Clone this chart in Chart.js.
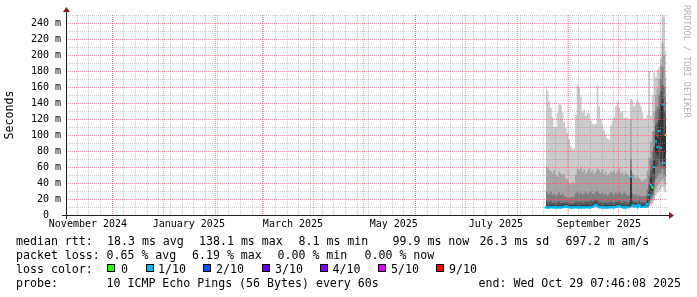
<!DOCTYPE html>
<html><head><meta charset="utf-8">
<script src="https://cdn.jsdelivr.net/npm/chart.js@4.4.1/dist/chart.umd.min.js"></script>
<style>
html,body{margin:0;padding:0;background:#fff;}
#wrap{position:relative;width:697px;height:297px;overflow:hidden;background:#fff;}
canvas{position:absolute;left:0;top:0;}
.t{position:absolute;font-family:"DejaVu Sans Mono",monospace;font-size:11.6px;line-height:14px;color:#000;white-space:pre;}
.box{position:absolute;width:6px;height:6px;border:1px solid #000;}
#wm{position:absolute;font-family:"DejaVu Sans Mono",monospace;font-size:8.5px;line-height:10px;color:#b3b3b3;white-space:pre;transform-origin:0 0;transform:rotate(90deg);left:692px;top:5px;}
</style></head><body>
<div id="wrap">
<canvas id="c" width="697" height="297"></canvas>
<div id="legend"></div>
<div id="wm">RRDTOOL / TOBI OETIKER</div>
</div>
<script>
// ---- categories (days of 2025, one consolidated sample per day) ----
const dayLabels = ['08-18','08-19','08-20','08-21','08-22','08-23','08-24','08-25','08-26','08-27','08-28','08-29','08-30','08-31',
'09-01','09-02','09-03','09-04','09-05','09-06','09-07','09-08','09-09','09-10','09-11','09-12','09-13','09-14','09-15','09-16','09-17','09-18','09-19','09-20','09-21','09-22','09-23','09-24','09-25','09-26','09-27','09-28','09-29','09-30',
'10-01','10-02','10-03','10-04','10-05','10-06','10-07','10-08','10-09','10-10','10-11','10-12','10-13','10-14','10-15','10-16','10-17','10-18','10-19','10-20','10-21','10-22','10-23','10-24','10-25','10-26','10-27','10-28','10-29'];

// ---- sorted ping values (ms), ping1 = fastest ... ping10 = slowest ----
const ping1 = [8.6,8.4,8.5,8.8,8.6,8.5,8.7,8.4,8.6,8.5, 8.8,9.0,9.4,8.9,8.6,8.5,8.4,8.6,8.8,8.5, 8.6,8.4,8.7,8.5,8.6,8.8,8.5,8.6,8.9,9.5, 10.1,9.3,8.8,8.6,8.5,8.4,8.6,8.5,8.7,8.6, 8.8,8.5,8.9,9.3,9.7,8.9,8.6,8.5,8.4,8.7, 8.9,9.1,9.7,9.1,9.6,8.8,9.8,8.9,8.9,9.0, 8.6,9,10,12,14,18,24,28,30,32, 35,30,28];
const ping2 = [8.9,8.7,8.8,9.1,8.9,8.8,9.0,8.7,8.9,8.8, 9.1,9.4,9.9,9.2,8.9,8.8,8.7,8.9,9.1,8.8, 8.9,8.7,9.0,8.8,8.9,9.1,8.8,8.9,9.2,10.0, 10.8,9.7,9.1,8.9,8.8,8.7,8.9,8.8,9.0,8.9, 9.1,8.8,9.3,9.8,10.2,9.3,8.9,8.8,8.7,9.0, 9.2,9.6,10.4,9.5,10.2,9.1,10.6,9.3,9.2,9.4, 9.0,9.5,12,15,18,24,32,36,40,42, 45,40,36];
const ping3 = [9.1,8.9,9.0,9.3,9.1,9.0,9.2,8.9,9.1,9.0, 9.3,9.7,10.2,9.5,9.1,9.0,8.9,9.1,9.3,9.0, 9.1,8.9,9.2,9.0,9.1,9.3,9.0,9.1,9.5,10.4, 11.4,10.1,9.3,9.1,9.0,8.9,9.1,9.0,9.2,9.1, 9.3,9.0,9.6,10.1,10.6,9.6,9.1,9.0,8.9,9.2, 9.4,10.0,11.0,9.8,10.7,9.3,11.2,9.6,9.4,9.7, 9.2,10,14,19,22,32,45,48,52,52, 58,50,48];
const ping4 = [9.3,9.1,9.2,9.5,9.3,9.2,9.4,9.1,9.3,9.2, 9.5,10.0,10.5,9.8,9.3,9.2,9.1,9.3,9.5,9.2, 9.3,9.1,9.4,9.2,9.3,9.5,9.2,9.3,9.8,10.8, 12.0,10.5,9.5,9.3,9.2,9.1,9.3,9.2,9.4,9.3, 9.5,9.2,9.8,10.4,11.0,9.8,9.3,9.2,9.1,9.4, 9.6,10.5,11.6,10.1,11.2,9.5,11.8,9.8,9.6,10.0, 9.4,10.5,17,24,26,42,60,62,68,60, 70,58,60];
const ping5 = [9.5,9.3,9.4,9.7,9.5,9.4,9.6,9.3,9.5,9.4, 9.7,10.3,10.8,10.1,9.5,9.4,9.3,9.5,9.7,9.4, 9.5,9.3,9.6,9.4,9.5,9.7,9.4,9.5,10.1,11.3, 12.6,10.9,9.7,9.5,9.4,9.3,9.5,9.4,9.6,9.5, 9.7,9.4,10.0,10.7,11.3,10.1,9.5,9.4,9.3,9.6, 9.8,12.0,12.2,10.4,11.6,9.7,12.3,10.1,9.8,10.3, 9.6,11,20,30,30,52,78,75,88,66, 80,62,75];
const ping6 = [12.2,12.0,11.8,12.4,12.1,11.9,12.3,11.8,12.2,12.0, 12.5,13.2,13.8,12.9,12.1,12.0,11.8,12.2,12.5,12.0, 12.2,11.9,12.4,12.0,12.2,12.6,12.0,12.2,13.0,14.2, 15.5,13.6,12.4,12.2,12.0,11.9,12.2,12.0,12.3,12.2, 12.5,12.0,12.8,13.6,14.2,12.9,12.2,12.0,11.9,12.3, 12.6,50,15.0,13.0,14.6,12.4,15.2,12.9,12.5,13.0, 12.5,18,30,46,40,68,100,96,118,140, 145,100,112];
const ping7 = [18,17,16,17,15,16,15,16,17,15, 16,15,16,16,15,14,14,15,16,17, 16,17,15,16,17,16,17,18,17,18, 19,18,16,16,17,15,16,15,16,17, 16,15,17,17,18,16,15,17,16,15, 16,56,18,16,17,15,18,16,16,16, 15,24,38,56,62,85,112,115,132,155, 162,130,128];
const ping8 = [30,28,26,29,25,27,24,26,28,25, 27,24,23,22,21,23,22,24,27,29, 26,28,25,27,29,26,28,30,27,26, 29,30,27,26,28,25,27,24,26,28, 27,25,28,26,29,27,25,28,26,24, 25,70,27,24,26,23,25,23,24,24, 24,32,50,70,80,105,130,135,150,170, 185,160,148];
const ping9 = [62,60,57,55,52,56,50,48,54,52, 50,52,46,44,40,38,42,40,50,58, 56,60,54,57,52,55,58,53,56,52, 54,58,56,53,57,51,54,50,52,55, 53,56,52,55,58,52,54,50,53,51, 48,120,52,50,47,49,46,44,42,45, 45,55,72,92,105,128,150,158,170,188, 215,200,172];
const ping10 = [162,155,142,134,122,110,109,128,138,138, 128,116,109,102,94,86,83,82,125,163, 160,148,128,132,124,128,126,118,114,113, 114,162,136,120,113,106,101,96,94,112, 118,122,136,142,134,128,130,122,121,122, 120,145,143,136,139,144,141,136,128,120, 121,125,180,124,150,178,172,182,185,196, 250,248,205];
const medianRtt = [9.6,9.4,9.5,9.8,9.6,9.5,9.7,9.4,9.6,9.5, 9.8,10.4,10.9,10.2,9.6,9.5,9.4,9.6,9.8,9.5, 9.6,9.4,9.7,9.5,9.6,9.8,9.5,9.6,10.2,11.5, 12.8,11.0,9.8,9.6,9.5,9.4,9.6,9.5,9.7,9.6, 9.8,9.5,10.1,10.8,11.4,10.2,9.6,9.5,9.4,9.7, 9.9,48,12.5,10.5,11.8,9.8,12.6,10.2,9.9,10.4, 10.5,14,25,38,34,60,92,85,105,84, 138.1,65,99.9];
// lost pings out of 10
const lossTenths = [1,1,1,1,1,1,1,1,1,1, 1,1,1,1,1,1,1,1,1,1, 1,1,1,1,1,1,1,1,1,1, 1,1,1,1,1,1,1,1,1,1, 1,1,1,1,1,1,1,1,1,1, 1,1,1,1,1,1,1,1,1,1, 1,1,1,1,0,1,1,1,1,1, 1,1,0];

// ---- axis tick labels ----
const yTickValues = [0,10,20,30,40,50,60,70,80,90,100,110,120,130,140,150,160,170,180,190,200,210,220,230,240,250];
const yTickLabels = ['0  ','','20 m','','40 m','','60 m','','80 m','','100 m','','120 m','','140 m','','160 m','','180 m','','200 m','','220 m','','240 m',''];
const monthLabels = ['November 2024','January 2025','March 2025','May 2025','July 2025','September 2025'];
const monthLabelTimes = ['2024-11-16T12:00:00Z','2025-01-16T00:00:00Z','2025-03-19T12:00:00Z','2025-05-19T00:00:00Z','2025-07-19T06:00:00Z','2025-09-19T00:00:00Z'];

// ---- legend ----
const lossLegend = ['0','1/10','2/10','3/10','4/10','5/10','9/10'];
const lossColors = ['#26ff00','#00b8ff','#0059ff','#5e00ff','#7e00ff','#dd00ff','#ff0000'];
const lossLevel = [0,1,2,3,4,5,9];

const DAY = 86400000;
const endTime = Date.UTC(2025, 9, 29, 7, 46, 8);
const startTime = endTime - 360 * DAY;
const dayTimes = dayLabels.map(d => Date.parse('2025-' + d + 'T06:00:00Z'));

// grid positions: weekly (Sunday) minor lines, monthly major lines
const monthStarts = [];
for (let k = 0; k < 13; k++) { const t = Date.UTC(2024, 10 + k, 1); if (t > startTime && t < endTime) monthStarts.push(t); }
const weekStarts = [];
for (let t = Date.UTC(2024, 10, 10); t < endTime; t += 7 * DAY) weekStarts.push(t);

const GRID = 'rgba(143,143,143,0.45)';
const MGRID = 'rgba(235,80,80,0.6)';
const mono = 'DejaVu Sans Mono';

function pts(arr) { return arr.map((v, i) => ({ x: dayTimes[i], y: v })); }
function lossColor(i) { return lossColors[lossLevel.indexOf(lossTenths[i])]; }

const smokeColors = ['#323232', '#585858', '#7e7e7e', '#a4a4a4', '#cacaca'];
const uppers = [ping6, ping7, ping8, ping9, ping10];
const lowers = [ping5, ping4, ping3, ping2, ping1];

const datasets = [{
  data: pts(medianRtt), borderWidth: 2, tension: 0, fill: false,
  pointStyle: 'line', pointRadius: 1.2, pointHoverRadius: 0, pointBorderWidth: 2,
  pointBorderColor: ctx => lossColor(ctx.dataIndex), pointBackgroundColor: ctx => lossColor(ctx.dataIndex),
  borderColor: '#00b8ff',
  segment: { borderColor: ctx => Math.abs(ctx.p1.parsed.y - ctx.p0.parsed.y) > 6 ? 'rgba(0,0,0,0)' : lossColor(ctx.p0DataIndex) }
}];
uppers.forEach((arr, k) => datasets.push({
  data: pts(arr), borderWidth: 0, pointRadius: 0, pointHoverRadius: 0, stepped: 'middle',
  backgroundColor: smokeColors[k], borderColor: smokeColors[k], fill: { target: 6 + k }
}));
lowers.forEach(arr => datasets.push({
  data: pts(arr), borderWidth: 0, pointRadius: 0, pointHoverRadius: 0, stepped: 'middle', fill: false
}));

// dotted rrdtool-style grid, placed through the chart's own scales
const rrdGrid = {
  id: 'rrdGrid',
  beforeDatasetDraw(chart, args) {
    if (args.index !== 0) return;
    const { ctx, chartArea: { left, right, top, bottom }, scales: { x, y } } = chart;
    ctx.save();
    const hline = (v, color) => {
      const row = Math.round(y.getPixelForValue(v));
      ctx.fillStyle = color;
      for (let px = left; px <= right; px += 2) ctx.fillRect(px, row, 1, 1);
    };
    const vline = (t, color) => {
      const col = Math.floor(x.getPixelForValue(t));
      ctx.fillStyle = color;
      for (let py = bottom; py >= top; py -= 2) ctx.fillRect(col, py, 1, 1);
    };
    yTickValues.forEach(v => { if (v % 20 !== 0) hline(v, GRID); });
    weekStarts.forEach(t => vline(t, GRID));
    yTickValues.forEach(v => { if (v % 20 === 0 && v > 0) hline(v, MGRID); });
    monthStarts.forEach(t => vline(t, MGRID));
    ctx.restore();
  }
};

const rrdAxes = {
  id: 'rrdAxes',
  afterDraw(chart) {
    const { ctx, chartArea: { left, right, top, bottom } } = chart;
    ctx.save();
    ctx.strokeStyle = '#1f1f1f'; ctx.lineWidth = 1;
    ctx.beginPath();
    ctx.moveTo(left - 4, bottom + 0.5); ctx.lineTo(right + 4, bottom + 0.5);
    ctx.moveTo(left + 0.5, bottom + 4); ctx.lineTo(left + 0.5, top - 4);
    ctx.stroke();
    ctx.fillStyle = '#802020';
    ctx.beginPath(); ctx.moveTo(right + 3, bottom - 3); ctx.lineTo(right + 3, bottom + 4); ctx.lineTo(right + 8, bottom + 0.5); ctx.closePath(); ctx.fill();
    ctx.beginPath(); ctx.moveTo(left - 3, top - 3); ctx.lineTo(left + 4, top - 3); ctx.lineTo(left + 0.5, top - 8); ctx.closePath(); ctx.fill();
    ctx.restore();
  }
};

new Chart(document.getElementById('c'), {
  type: 'line',
  data: { datasets },
  plugins: [rrdGrid, rrdAxes],
  options: {
    responsive: false, animation: false, devicePixelRatio: 1,
    layout: { padding: { left: 0, top: 15, right: 31, bottom: 62 } },
    plugins: { legend: { display: false }, tooltip: { enabled: false } },
    events: [],
    scales: {
      x: {
        type: 'linear', min: startTime, max: endTime, position: 'bottom',
        afterFit: s => { s.height = 0; },
        ticks: { display: false },
        grid: { display: false, drawTicks: false },
        border: { display: false }
      },
      xl: {
        type: 'linear', min: startTime, max: endTime, position: 'bottom',
        afterBuildTicks: s => { s.ticks = monthLabelTimes.map(d => ({ value: Date.parse(d) })); },
        afterFit: s => { s.height = 20; },
        ticks: { callback: (v, i) => monthLabels[i], font: { family: mono, size: 10 }, color: '#000', padding: 3, maxRotation: 0, minRotation: 0, autoSkip: false },
        grid: { display: false, drawTicks: false },
        border: { display: false }
      },
      y: {
        type: 'linear', min: 0, max: 250, position: 'left',
        afterBuildTicks: s => { s.ticks = yTickValues.map(v => ({ value: v })); },
        afterFit: s => { s.width = 66; },
        ticks: { callback: (v, i) => yTickLabels[i], font: { family: mono, size: 10 }, color: '#000', padding: 5, autoSkip: false },
        grid: { display: false, drawTicks: false },
        border: { display: false },
        title: { display: true, text: 'Seconds', font: { family: mono, size: 11.6 }, color: '#000', padding: { top: 3.5, bottom: 0 } }
      }
    }
  }
});

// ---- legend text (HTML) ----
const lines = [
  { top: 234, items: [[16, 'median rtt:'], [107, '18.3 ms avg'], [199, '138.1 ms max'], [298.5, '8.1 ms min'], [392.5, '99.9 ms now'], [479.5, '26.3 ms sd'], [565.5, '697.2 m am/s']] },
  { top: 248, items: [[16, 'packet loss:'], [106.5, '0.65 % avg'], [192, '6.19 % max'], [277.5, '0.00 % min'], [364.5, '0.00 % now']] },
  { top: 262, items: [[16, 'loss color:']] },
  { top: 276, items: [[16, 'probe:'], [106.5, '10 ICMP Echo Pings (56 Bytes) every 60s'], [478.5, 'end: Wed Oct 29 07:46:08 2025']] }
];
const boxX = [107, 146, 203, 262, 320, 378, 436];
const boxLabelX = [121, 158, 216, 275, 332.5, 391, 449];
const leg = document.getElementById('legend');
lines.forEach(l => l.items.forEach(([x, s]) => {
  const d = document.createElement('div'); d.className = 't'; d.style.left = x + 'px'; d.style.top = l.top + 'px'; d.textContent = s; leg.appendChild(d);
}));
lossLegend.forEach((s, k) => {
  const b = document.createElement('div'); b.className = 'box'; b.style.left = boxX[k] + 'px'; b.style.top = '264px'; b.style.background = lossColors[k]; leg.appendChild(b);
  const d = document.createElement('div'); d.className = 't'; d.style.left = boxLabelX[k] + 'px'; d.style.top = '262px'; d.textContent = s; leg.appendChild(d);
});
</script>
</body></html>
